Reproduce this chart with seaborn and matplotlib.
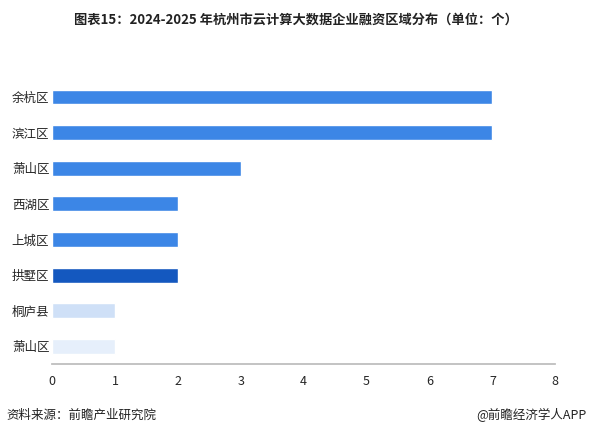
import matplotlib
matplotlib.use("Agg")
import matplotlib.pyplot as plt
import seaborn as sns
import pandas as pd

categories = ["余杭区", "滨江区", "萧山区", "西湖区", "上城区", "拱墅区", "桐庐县", "萧山区"]
values = [7, 7, 3, 2, 2, 2, 1, 1]
colors = ["#3c86e6", "#3c86e6", "#3c86e6", "#3c86e6", "#3c86e6", "#1458bf", "#cfe0f7", "#e6effb"]
xticks = [0, 1, 2, 3, 4, 5, 6, 7, 8]

sns.set_theme(style="white")
plt.rcParams['font.family'] = ['Noto Sans CJK SC', 'DejaVu Sans']

keys = [f"{i}" for i in range(len(categories))]
df = pd.DataFrame({"key": keys, "value": values})

fig = plt.figure(figsize=(5.92, 4.26), dpi=100)
ax = fig.add_axes([0.088, 0.145, 0.85, 0.69])
sns.barplot(data=df, x="value", y="key", hue="key", palette=colors, legend=False,
            orient="h", width=0.42, saturation=1, ax=ax)
ax.set_yticks(range(len(categories)))
ax.set_yticklabels(categories, fontsize=9)
ax.set_xlim(0, 8)
ax.set_xticks(xticks)
ax.set_xticklabels([str(t) for t in xticks], fontsize=9)
ax.set_xlabel("")
ax.set_ylabel("")
for s in ["top", "right", "left"]:
    ax.spines[s].set_visible(False)
ax.spines["bottom"].set_color("#bbbbbb")
ax.tick_params(axis="y", length=0, pad=2)
ax.tick_params(axis="x", length=0, pad=8)
ax.set_ylim(len(categories) - 0.5, -0.75)

fig.text(0.5, 0.955, "图表15：2024-2025 年杭州市云计算大数据企业融资区域分布（单位：个）",
         ha="center", va="center", fontsize=9.5, fontweight="bold", color="#222222")
fig.text(0.01, 0.025, "资料来源：前瞻产业研究院", ha="left", va="center", fontsize=9, color="#222222")
fig.text(0.99, 0.025, "@前瞻经济学人APP", ha="right", va="center", fontsize=9, color="#222222")

fig.savefig("out.png", dpi=100)
